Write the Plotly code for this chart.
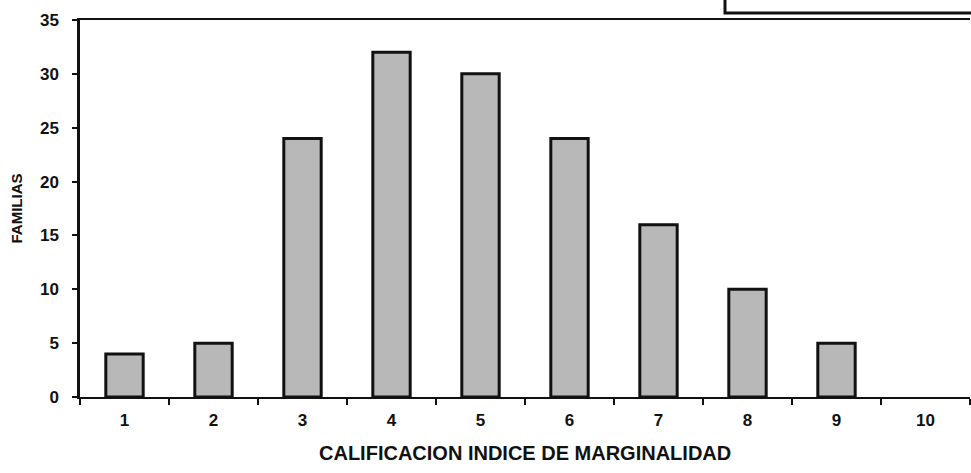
import plotly.graph_objects as go

categories = [1, 2, 3, 4, 5, 6, 7, 8, 9, 10]
familias = [4, 5, 24, 32, 30, 24, 16, 10, 5, None]
y_ticks = [0, 5, 10, 15, 20, 25, 30, 35]

font = "Liberation Sans, Arial, sans-serif"
ink = "#111111"

fig = go.Figure()
fig.add_trace(go.Bar(
    x=categories, y=familias, width=0.42,
    marker=dict(color="#b8b8b8", line=dict(color=ink, width=3)),
))

fig.update_layout(
    width=971, height=473,
    margin=dict(l=80, r=1, t=20, b=76),
    paper_bgcolor="white", plot_bgcolor="white",
    showlegend=False,
    font=dict(family=font, color=ink, size=16),
    xaxis=dict(
        range=[0.5, 10.5], tickvals=categories,
        ticktext=["<b>%d</b>" % c for c in categories],
        ticks="", showgrid=False, zeroline=False,
        showline=True, linecolor=ink, linewidth=2, mirror=True,
        tickfont=dict(size=17, family=font, color=ink), ticklabelstandoff=7,
        minor=dict(tick0=0.5, dtick=1, ticks="outside", ticklen=6, tickwidth=1.5, tickcolor=ink),
    ),
    yaxis=dict(
        range=[0, 35], tickvals=y_ticks, ticktext=["<b>%d</b>" % v for v in y_ticks],
        showgrid=False, zeroline=False,
        showline=True, linecolor=ink, linewidth=2.5,
        ticks="outside", ticklen=5, tickwidth=1.5, tickcolor=ink,
        tickfont=dict(size=17, family=font, color=ink), ticklabelstandoff=10,
        title=dict(text="<b>FAMILIAS</b>", font=dict(size=15, family=font, color=ink), standoff=14),
    ),
    annotations=[dict(
        text="<b>CALIFICACION INDICE DE MARGINALIDAD</b>", xref="paper", yref="paper",
        x=0.5, y=-(453 - 397) / 377, xanchor="center", yanchor="middle",
        showarrow=False, font=dict(size=20, family=font, color=ink),
    )],
    shapes=[dict(
        type="rect", xref="paper", yref="paper",
        x0=(725 - 80) / 890, x1=1.02, y0=(397 - 13) / 377, y1=1.2,
        line=dict(color=ink, width=3), fillcolor="rgba(0,0,0,0)",
    )],
)

fig.write_html(
    "out.html",
    config={"displayModeBar": False},
    post_script="document.body.style.margin='0';document.body.style.overflow='hidden';",
)
